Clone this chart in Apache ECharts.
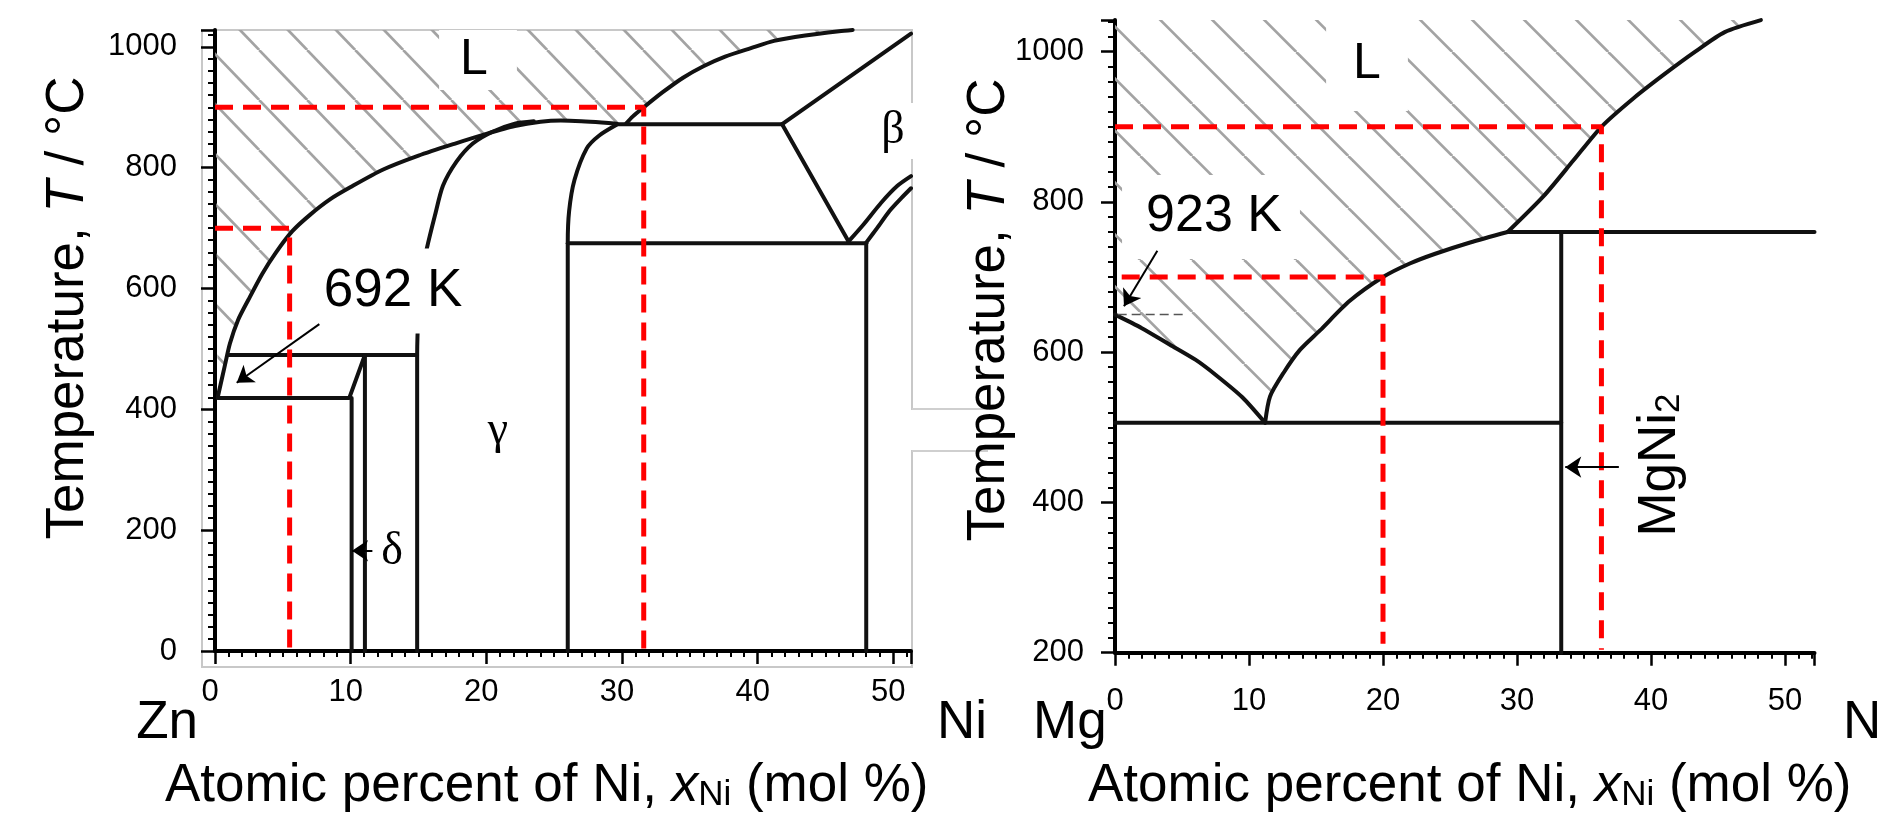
<!DOCTYPE html>
<html><head><meta charset="utf-8">
<script src="https://cdn.jsdelivr.net/npm/echarts@6/dist/echarts.min.js"></script>
<style>html,body{margin:0;padding:0;background:#fff;}#c{width:1884px;height:828px;}</style>
</head><body><div id="c"></div>
<script>
// ================= DATA : Zn–Ni (left) =================
const znXTicks = [0, 10, 20, 30, 40, 50];
const znYTicks = [0, 200, 400, 600, 800, 1000];
const znXRange = [0, 51.3];
const znYRange = [0, 1028];
const znLiquidus = [[0.2,420],[0.7,470],[1.1,509],[1.7,548],[2.45,581],[3.5,625],[4.5,660],[5.7,695],[7,722],[8.5,748],[10,768],[12.4,797],[15,820],[17.7,840],[20,856],[22.1,869],[24,876],[25.5,878],[27,877],[28.5,875],[29.6,873]];
const znUpperLiquidus = [[30.3,873],[30.8,885],[31.6,900],[33,925],[34.5,949],[36,968],[37.6,984],[39.5,998],[41.2,1010],[43.5,1019],[46,1026],[47,1028]];
const znPeritectic872 = [[29.6,872],[41.8,872]];
const znBetaSolidus = [[41.8,872],[51.3,1022]];
const znBetaLower = [[41.8,872],[46.7,678]];
const znEutectoid675 = [[26.0,675],[48.0,675]];
const znNi48 = [[48.0,0],[48.0,675]];
const znBetaCurveA = [[46.7,678],[47.8,706],[49.1,742],[50.3,770],[51.3,786]];
const znBetaCurveB = [[48.0,676],[48.8,700],[49.7,728],[50.6,750],[51.3,766]];
const znGammaRight = [[26.0,0],[26.0,675],[26.1,728],[26.5,780],[27.4,832],[28.3,853],[29.6,871]];
const znGammaLeft = [[14.9,0],[14.9,490],[15.0,560],[15.2,620],[15.6,665],[16.2,720],[16.8,770],[17.8,810],[19.0,840],[20.5,860],[22.1,873],[23.5,877]];
const zn490 = [[0.98,490],[14.9,490]];
const zn420 = [[0.2,419],[9.9,419],[11.05,490]];
const znDelta10 = [[10.07,0],[10.07,419]];
const znDelta11 = [[11.05,0],[11.05,490]];
const znRed900 = [[0,900],[31.6,900],[31.6,3]];
const znRed700 = [[0,700],[5.5,700],[5.5,4]];
const znArrow692 = [[7.69,541],[1.6,444]];
const znArrowDelta = [[11.6,166],[10.1,166]];

// ================= DATA : Mg–Ni (right) =================
const mgXTicks = [0, 10, 20, 30, 40, 50];
const mgYTicks = [200, 400, 600, 800, 1000];
const mgXRange = [0, 52.2];
const mgYRange = [200, 1042];
const mgLiquidusL = [[0,650],[2,632],[4.1,610],[6,590],[7.5,570],[9.5,540],[11.2,506]];
const mgLiquidusR = [[11.2,506],[11.57,541],[12.56,572],[13.8,603],[15.3,629],[17.5,668],[20,700],[22,718],[23.9,731],[26.5,746],[29.3,760]];
const mgUpper = [[29.3,760],[32.0,808],[34.2,855],[36.3,900],[38.7,938],[41.0,970],[43.3,1000],[45.5,1026],[48.2,1042]];
const mgEutectic = [[0,506],[33.3,506]];
const mgPeritectic = [[29.3,760],[52.2,760]];
const mgNi2Line = [[33.3,200],[33.3,760]];
const mgMeltDash = [[0.2,650],[5.1,650]];
const mgRed900 = [[0,900],[36.3,900],[36.3,204]];
const mgRed700 = [[0.5,700],[20,700],[20,212]];
const mgArrow923 = [[3.16,735],[0.67,661]];
const mgArrowNi2 = [[37.6,447],[33.6,447]];

// ================= STYLE / LAYOUT =================
const FONT = '"Liberation Sans", Arial, sans-serif';
const SERIF = '"Liberation Serif", "DejaVu Serif", serif';
const BLACK = '#111';
const RED = '#ff0000';
const TICKFONT = 31;

function hatchTile(w, h, ox, color, lw) {
  const c = document.createElement('canvas');
  c.width = w; c.height = h;
  const g = c.getContext('2d');
  g.strokeStyle = color; g.lineWidth = lw;
  for (let k = -2; k <= 2; k++) {
    g.beginPath(); g.moveTo(ox + k * w, 0); g.lineTo(ox + k * w + w, h); g.stroke();
  }
  return c;
}
const hatchL = hatchTile(48, 50, 19.2, '#a3a3a3', 2.6);
const hatchR = hatchTile(52, 52, 48.3, '#a3a3a3', 2.6);

const znHatchPoly = [[0, znYRange[1]]].concat(znLiquidus, znUpperLiquidus);
const mgHatchPoly = [[0, mgYRange[1]]].concat(mgLiquidusL, mgLiquidusR.slice(1), mgUpper.slice(1));

function hatchSeries(poly, idx, tile) {
  return {
    type: 'custom', xAxisIndex: idx, yAxisIndex: idx, z: 1, silent: true,
    data: [[poly[0][0], poly[0][1]]],
    renderItem: function (params, api) {
      return { type: 'polygon', shape: { points: poly.map(p => api.coord(p)) },
        style: { fill: { image: tile, repeat: 'repeat' }, stroke: null } };
    }
  };
}
function phase(data, idx, smooth) {
  return { type: 'line', xAxisIndex: idx, yAxisIndex: idx, data: data, showSymbol: false, symbol: 'none',
    smooth: smooth ? 0.25 : false, z: 3, silent: true, clip: false,
    lineStyle: { color: BLACK, width: 4, cap: 'round', join: 'round' } };
}
function redDash(data, idx) {
  return { type: 'line', xAxisIndex: idx, yAxisIndex: idx, data: data, showSymbol: false, symbol: 'none',
    z: 6, silent: true, lineStyle: { color: RED, width: 5, type: [18, 10] } };
}
function arrows(list, idx) {
  return { type: 'lines', coordinateSystem: 'cartesian2d', xAxisIndex: idx, yAxisIndex: idx, z: 10, silent: true,
    symbol: ['none', 'arrow'], symbolSize: [0, 16],
    lineStyle: { color: '#000', width: 2, opacity: 1 },
    data: list.map(c => ({ coords: c })) };
}
function xAx(idx, range, ticks, margin, pad) {
  return { gridIndex: idx, type: 'value', min: range[0], max: range[1], interval: 10,
    axisLine: { show: true, onZero: false, lineStyle: { color: '#000', width: 4 } },
    axisTick: { show: true, length: 13, lineStyle: { color: '#000', width: 2.5 } },
    minorTick: { show: true, splitNumber: 10, length: 6, lineStyle: { color: '#000', width: 2 } },
    splitLine: { show: false }, minorSplitLine: { show: false },
    axisLabel: { show: true, interval: 0, color: '#000', fontSize: TICKFONT, fontFamily: FONT, margin: margin,
      padding: pad, formatter: v => ticks.includes(v) ? String(v) : '' } };
}
function yAx(idx, range, ticks, margin) {
  return { gridIndex: idx, type: 'value', min: range[0], max: range[1], interval: 200,
    axisLine: { show: true, onZero: false, lineStyle: { color: '#000', width: 4 } },
    axisTick: { show: true, length: 14, lineStyle: { color: '#000', width: 2.5 } },
    minorTick: { show: true, splitNumber: 10, length: 7, lineStyle: { color: '#000', width: 2 } },
    splitLine: { show: false }, minorSplitLine: { show: false },
    axisLabel: { show: true, interval: 0, color: '#000', fontSize: TICKFONT, fontFamily: FONT, margin: margin,
      formatter: v => ticks.includes(v) ? String(v) : '' } };
}

const big = { fontSize: 53, fontFamily: FONT, lineHeight: 60, verticalAlign: 'bottom', fill: '#000' };
const bigI = Object.assign({}, big, { fontStyle: 'italic' });
const sub = { fontSize: 35, fontFamily: FONT, lineHeight: 30, verticalAlign: 'bottom', fill: '#000' };

function txt(x, y, text, extra, z) {
  return { type: 'text', x: x, y: y, z: z || 5, silent: true,
    style: Object.assign({ text: text, font: '52px ' + FONT, fill: '#000', align: 'center', verticalAlign: 'middle' }, extra || {}) };
}
function richTxt(x, y, text, align, rotation) {
  return { type: 'text', x: x, y: y, rotation: rotation || 0, z: 5, silent: true,
    style: { text: text, align: align, verticalAlign: 'middle', rich: { a: big, i: bigI, s: sub } } };
}

const chart = echarts.init(document.getElementById('c'), null, { renderer: 'canvas' });
chart.setOption({
  animation: false,
  backgroundColor: '#fff',
  grid: [
    { left: 215, top: 30, width: 696, height: 621, containLabel: false, outerBoundsMode: 'none', show: false },
    { left: 1115, top: 20.1, width: 699.5, height: 632.6, containLabel: false, outerBoundsMode: 'none', show: false }
  ],
  xAxis: [ xAx(0, znXRange, znXTicks, 26, [0, 10, 0, 0]), xAx(1, mgXRange, mgXTicks, 33, [0, 0, 0, 0]) ],
  yAxis: [ yAx(0, znYRange, znYTicks, 38), yAx(1, mgYRange, mgYTicks, 31) ],
  series: [
    hatchSeries(znHatchPoly, 0, hatchL),
    hatchSeries(mgHatchPoly, 1, hatchR),
    phase(znLiquidus, 0, true), phase(znUpperLiquidus, 0, true), phase(znPeritectic872, 0),
    phase(znBetaSolidus, 0), phase(znBetaLower, 0), phase(znEutectoid675, 0), phase(znNi48, 0),
    phase(znBetaCurveA, 0, true), phase(znBetaCurveB, 0, true), phase(znGammaRight, 0, true),
    phase(znGammaLeft, 0, true), phase(zn490, 0), phase(zn420, 0), phase(znDelta10, 0), phase(znDelta11, 0),
    phase(mgLiquidusL, 1, true), phase(mgLiquidusR, 1, true), phase(mgUpper, 1, true),
    phase(mgEutectic, 1), phase(mgPeritectic, 1), phase(mgNi2Line, 1),
    { type: 'line', xAxisIndex: 1, yAxisIndex: 1, data: mgMeltDash, showSymbol: false, symbol: 'none', z: 3, silent: true,
      lineStyle: { color: '#555', width: 1.5, type: [9, 5] } },
    redDash(znRed900, 0), redDash(znRed700, 0), redDash(mgRed900, 1), redDash(mgRed700, 1),
    arrows([znArrow692, znArrowDelta], 0),
    arrows([mgArrow923, mgArrowNi2], 1)
  ],
  graphic: [
    { type: 'rect', z: 0, silent: true, shape: { x: 202, y: 30, width: 710, height: 637 },
      style: { fill: 'none', stroke: '#c8c8c8', lineWidth: 2 } },
    { type: 'rect', z: 1, silent: true, shape: { x: 908, y: 410, width: 8, height: 40 }, style: { fill: '#fff' } },
    { type: 'line', z: 1, silent: true, shape: { x1: 912, y1: 409, x2: 988, y2: 409 }, style: { stroke: '#cfcfcf', lineWidth: 2 } },
    { type: 'line', z: 1, silent: true, shape: { x1: 912, y1: 451, x2: 988, y2: 451 }, style: { stroke: '#cfcfcf', lineWidth: 2 } },
    // axis titles
    richTxt(65, 308, '{a|Temperature, }{i|T}{a| / °C}', 'center', Math.PI / 2),
    richTxt(986, 310, '{a|Temperature, }{i|T}{a| / °C}', 'center', Math.PI / 2),
    richTxt(165, 783, '{a|Atomic percent of Ni, }{i|x}{s|Ni}{a| (mol %)}', 'left'),
    richTxt(1088, 783, '{a|Atomic percent of Ni, }{i|x}{s|Ni}{a| (mol %)}', 'left'),
    // element labels
    txt(198, 723, 'Zn', { align: 'right', font: '53px ' + FONT }),
    txt(937, 723, 'Ni', { align: 'left', font: '53px ' + FONT }),
    txt(1033, 723, 'Mg', { align: 'left', font: '53px ' + FONT }),
    txt(1843, 723, 'Ni', { align: 'left', font: '53px ' + FONT }),
    // phase labels
    txt(478, 60, 'L', { font: '50px ' + FONT, backgroundColor: '#fff', padding: [0, 29, 10, 21] }),
    txt(1367, 64, 'L', { font: '50px ' + FONT, backgroundColor: '#fff', padding: [8, 27, 36, 27] }),
    txt(393, 291, '692 K', { font: '53px ' + FONT, backgroundColor: '#fff', padding: [16, 12, 16, 12] }),
    txt(1211, 217, '923 K', { font: '52px ' + FONT, backgroundColor: '#fff', padding: [20, 18, 12, 24] }),
    txt(897, 131, 'β', { font: '46px ' + SERIF, backgroundColor: '#fff', padding: [8, 22, 2, 14] }),
    txt(498, 431, 'γ', { font: '46px ' + SERIF }),
    txt(392, 552, 'δ', { font: '46px ' + SERIF }),
    richTxt(1657, 465, '{a|MgNi}{s|2}', 'center', Math.PI / 2)
  ]
});
</script>
</body></html>
